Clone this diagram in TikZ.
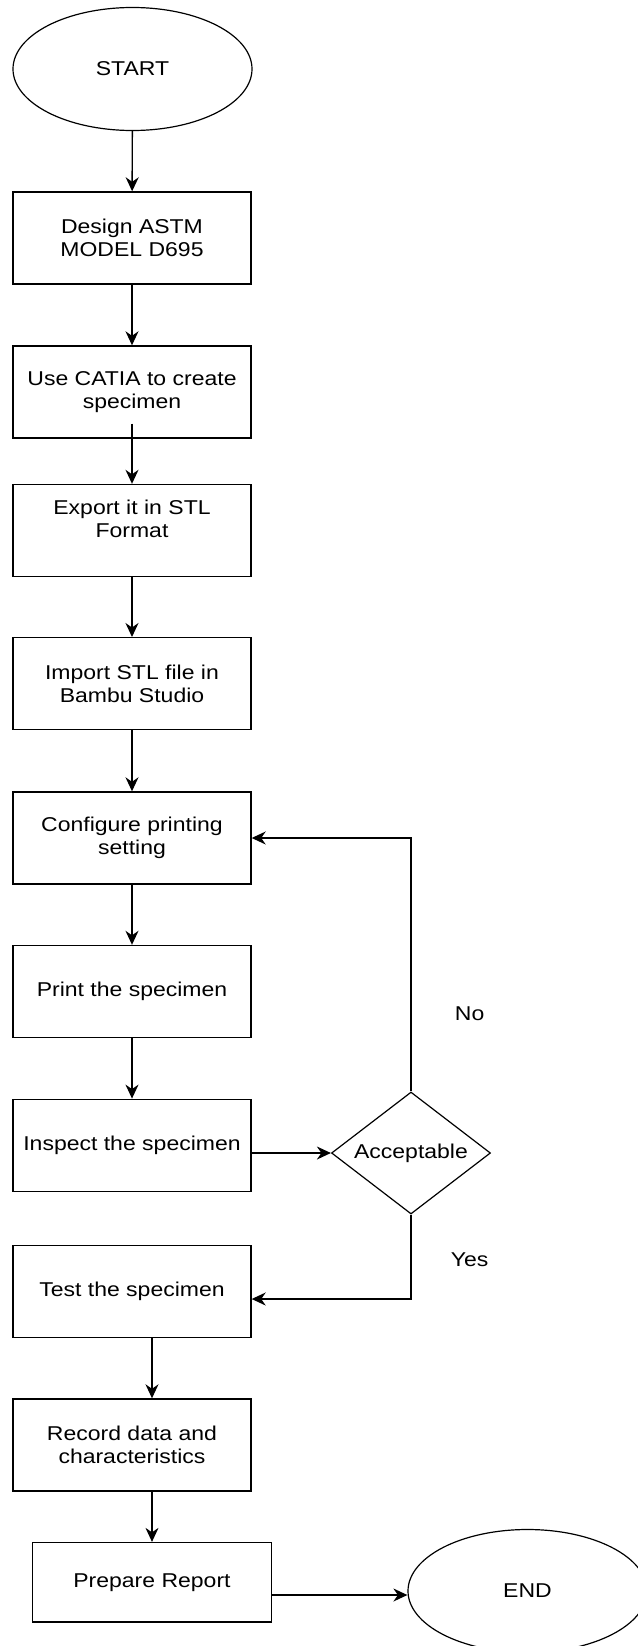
\documentclass[tikz,border=0pt]{standalone}
\usepackage{fontspec}
\setmainfont{Liberation Sans}[FakeStretch=1.15]
\usetikzlibrary{shapes.geometric,arrows.meta,calc}
\begin{document}
\begin{tikzpicture}[x=1pt,y=-1pt,
  every node/.style={font=\fontsize{20}{23.5}\selectfont, text=black},
  procbox/.style={draw=black, line width=1.4pt, rectangle, minimum width=238pt, minimum height=92pt, inner sep=0pt, align=center},
  termnode/.style={draw=black, line width=1.2pt, ellipse, minimum width=239pt, minimum height=123pt, inner sep=0pt},
  decide/.style={draw=black, line width=1.2pt, diamond, shape aspect=1.3, minimum width=159pt, minimum height=122pt, inner sep=0pt},
  flow/.style={draw=black, line width=1.4pt, -{Stealth[length=14pt,width=13pt,inset=4.5pt]}},
  lbl/.style={inner sep=0pt}
]
\useasboundingbox (0,0) rectangle (637,1646);
\node[termnode] (start) at (132.5,69) {START};
\node[procbox] (design) at (132,238) {Design ASTM\\MODEL D695};
\node[procbox] (catia) at (132,392) {Use CATIA to create\\specimen};
\node[procbox] (export) at (132,530.5) {Export it in STL\\Format\\\mbox{}};
\node[procbox] (import) at (132,683.7) {Import STL file in\\Bambu Studio};
\node[procbox] (config) at (132,838) {Configure printing\\setting};
\node[procbox] (print) at (132,991.5) {Print the specimen};
\node[procbox] (inspect) at (132,1145.3) {Inspect the specimen};
\node[decide] (accept) at (411,1153) {Acceptable};
\node[procbox] (test) at (132,1291.5) {Test the specimen};
\node[procbox] (record) at (132,1445) {Record data and\\characteristics};
\node[procbox, minimum width=239pt, minimum height=79.5pt] (prep) at (152,1582.3) {Prepare Report};
\node[termnode] (finish) at (527.5,1591) {END};
\node[lbl] (no) at (469.6,1014) {No};
\node[lbl] (yes) at (469.6,1260) {Yes};

\draw[flow] (start) -- (design);
\draw[flow] (design) -- (catia);
\draw[flow] ($(catia.south)+(0,-15)$) -- (export);
\draw[flow] (export) -- (import);
\draw[flow] (import) -- (config);
\draw[flow] (config) -- (print);
\draw[flow] (print) -- (inspect);
\draw[flow] (inspect.east |- accept.west) -- (accept.west);
\draw[flow] (accept.north) |- (config.east);
\draw[flow] (accept.south) |- ($(test.east)+(0,7.5)$);
\draw[flow] (prep.north |- test.south) -- (prep.north |- record.north);
\draw[flow] (prep.north |- record.south) -- (prep.north);
\draw[flow] ($(prep.east)+(0,12.7)$) -- ($(finish.west)+(0,4)$);
\end{tikzpicture}
\end{document}
